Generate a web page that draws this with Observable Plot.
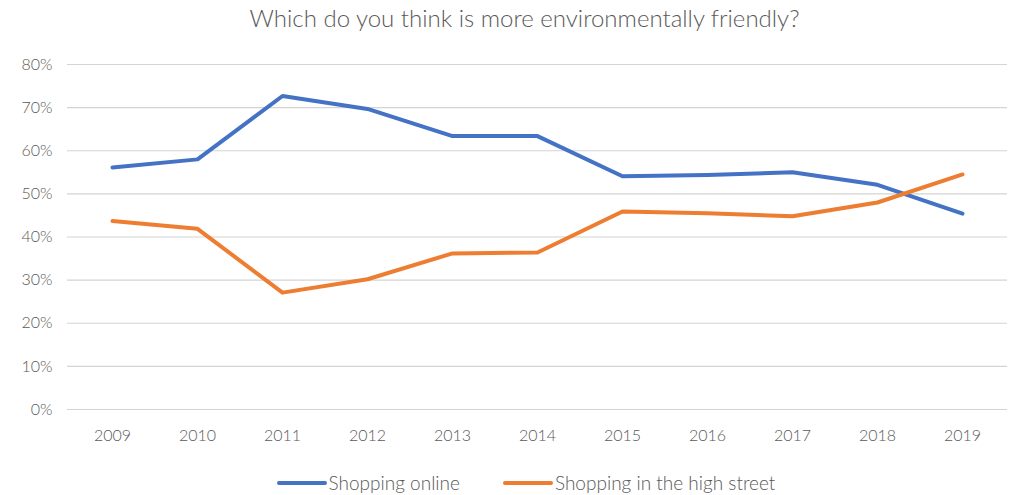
<!DOCTYPE html>
<html>
<head>
<meta charset="utf-8">
<script src="https://cdn.jsdelivr.net/npm/d3@7"></script>
<script src="https://cdn.jsdelivr.net/npm/@observablehq/plot@0.6"></script>
<style>
  body { margin: 0; background: #fff; font-family: Lato, "Open Sans", sans-serif; }
  #title { height: 36px; line-height: 36px; text-align: center; font-size: 24px; color: #595959; font-weight: 300; padding-left: 32px; }
  #legend { display: flex; justify-content: center; align-items: center; gap: 43px; padding-top: 15px; font-size: 19px; color: #595959; padding-left: 35px; font-weight: 300; }
  .item { display: flex; align-items: center; gap: 2px; }
  .sw { width: 50px; height: 4px; border-radius: 2px; display: inline-block; }
</style>
</head>
<body>
<div id="title">Which do you think is more environmentally friendly?</div>
<div id="chart"></div>
<div id="legend"></div>
<script>
const years = ["2009","2010","2011","2012","2013","2014","2015","2016","2017","2018","2019"];
const online = [56.1, 58.0, 72.7, 69.7, 63.4, 63.4, 54.1, 54.4, 55.0, 52.1, 45.4];
const highStreet = [43.7, 41.9, 27.1, 30.2, 36.2, 36.4, 45.9, 45.5, 44.8, 48.0, 54.5];
const seriesNames = ["Shopping online", "Shopping in the high street"];
const colors = ["#4472C4", "#ED7D31"];
const yTicks = [0, 10, 20, 30, 40, 50, 60, 70, 80];

const data = [];
years.forEach((y, i) => {
  data.push({year: y, value: online[i], series: seriesNames[0]});
  data.push({year: y, value: highStreet[i], series: seriesNames[1]});
});

const chart = Plot.plot({
  width: 1017,
  height: 420,
  marginTop: 28,
  marginBottom: 47,
  marginLeft: 67,
  marginRight: 10,
  style: {fontFamily: "Lato, 'Open Sans', sans-serif", fontSize: "16px", fontWeight: 300, color: "#595959", background: "#fff"},
  x: {type: "point", domain: years, padding: 0.5, label: null, tickSize: 0, tickPadding: 20},
  y: {domain: [0, 80], ticks: yTicks, tickFormat: d => d + "%", label: null, tickSize: 0, tickPadding: 15},
  color: {domain: seriesNames, range: colors},
  marks: [
    Plot.gridY(yTicks, {stroke: "#d4d4d4", strokeOpacity: 1, strokeWidth: 1.2}),
    Plot.axisX({tickSize: 0, tickPadding: 20, fill: "#595959"}),
    Plot.axisY({ticks: yTicks, tickFormat: d => d + "%", tickSize: 0, tickPadding: 15, fill: "#595959"}),
    Plot.line(data, {x: "year", y: "value", z: "series", stroke: "series", strokeWidth: 4, strokeLinecap: "round", strokeLinejoin: "round"})
  ]
});
document.getElementById("chart").appendChild(chart);

const legend = document.getElementById("legend");
seriesNames.forEach((n, i) => {
  const it = document.createElement("div");
  it.className = "item";
  const sw = document.createElement("span");
  sw.className = "sw";
  sw.style.background = colors[i];
  const t = document.createElement("span");
  t.textContent = n;
  it.appendChild(sw); it.appendChild(t);
  legend.appendChild(it);
});
</script>
</body>
</html>
